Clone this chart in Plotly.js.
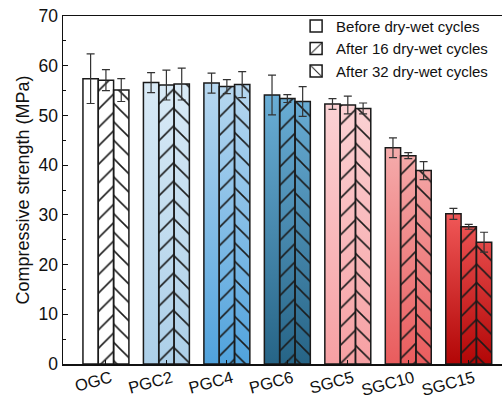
<!DOCTYPE html>
<html>
<head>
<meta charset="utf-8">
<script src="https://cdn.plot.ly/plotly-3.0.1.min.js"></script>
<style>html,body{margin:0;padding:0;background:#fff;}#chart{width:502px;height:403px;}</style>
</head>
<body>
<div id="chart"></div>
<script>
const categories = ["OGC", "PGC2", "PGC4", "PGC6", "SGC5", "SGC10", "SGC15"];
const seriesNames = ["Before dry-wet cycles", "After 16 dry-wet cycles", "After 32 dry-wet cycles"];
const before = [57.4, 56.6, 56.5, 54.1, 52.3, 43.5, 30.2];
const beforeErr = [5.0, 2.0, 2.0, 4.0, 1.1, 2.0, 1.1];
const after16 = [57.1, 56.1, 55.8, 53.4, 52.1, 41.9, 27.6];
const after16Err = [2.1, 3.0, 1.4, 0.8, 1.8, 0.6, 0.5];
const after32 = [55.1, 56.3, 56.2, 52.8, 51.4, 38.9, 24.5];
const after32Err = [2.3, 3.2, 2.6, 3.0, 1.1, 1.8, 2.0];
const groupTopColors = ["#ffffff", "#d9eaf6", "#b8d8f0", "#6aaed6", "#fbd2d4", "#f5acac", "#f05858"];
const groupBottomColors = ["#ffffff", "#accfe8", "#50a2dc", "#266486", "#f6a0a3", "#e95c5d", "#b20606"];

const values = [before, after16, after32];
const errors = [beforeErr, after16Err, after32Err];
const shapes = ["", "/", "\\"];
const bargap = 0.24;
const barW = (1 - bargap) / values.length;
const idx = categories.map((c, i) => i);

const traces = [];
// gradient fills under the bars (one trace per category group)
categories.forEach((c, ci) => {
  const xs = [], ys = [];
  values.forEach((v, s) => {
    const xc = ci + (s - (values.length - 1) / 2) * barW;
    const x0 = xc - barW / 2, x1 = xc + barW / 2;
    xs.push(x0, x1, x1, x0, x0, null);
    ys.push(0, 0, v[ci], v[ci], 0, null);
  });
  const top = Math.max(...values.map(v => v[ci]));
  traces.push({
    type: "scatter", mode: "lines", x: xs, y: ys, xaxis: "x", yaxis: "y",
    fill: "toself", line: {width: 0, color: "rgba(0,0,0,0)"},
    fillcolor: groupBottomColors[ci],
    fillgradient: {type: "vertical", start: 0, stop: top,
      colorscale: [[0, groupBottomColors[ci]], [1, groupTopColors[ci]]]},
    showlegend: false, hoverinfo: "skip"
  });
});

values.forEach((v, i) => {
  traces.push({
    type: "bar", name: seriesNames[i], x: idx, y: v, xaxis: "x2", yaxis: "y2",
    error_y: {type: "data", array: errors[i], visible: true, color: "#333333", thickness: 1.2, width: 4},
    marker: {
      color: "rgba(255,255,255,0)",
      line: {color: "#1a1a1a", width: 1.5},
      pattern: {shape: shapes[i], fillmode: "overlay", fgcolor: "#1a1a1a", fgopacity: 1, size: 13, solidity: 0.12}
    },
    showlegend: true
  });
});

const layout = {
  width: 502, height: 403,
  margin: {l: 63, r: 0, t: 16, b: 39},
  paper_bgcolor: "#ffffff", plot_bgcolor: "#ffffff",
  font: {family: "Liberation Sans, Arial, sans-serif", color: "#111111"},
  barmode: "group", bargap: bargap, bargroupgap: 0,
  showlegend: true,
  legend: {x: 0.531, y: 1.018, xanchor: "left", yanchor: "top", font: {size: 15, color: "#111"},
    bgcolor: "rgba(0,0,0,0)", tracegroupgap: 0},
  xaxis: {
    range: [-0.71, 6.55], tickvals: idx, ticktext: categories,
    showline: true, linecolor: "#111", linewidth: 1.5, mirror: true,
    ticks: "inside", ticklen: 4, tickcolor: "#111", tickangle: -15, tickfont: {size: 16.5},
    ticklabelshift: 5, ticklabelstandoff: -3,
    showgrid: false, zeroline: false
  },
  yaxis: {
    range: [0, 70], dtick: 10, showline: true, linecolor: "#111", linewidth: 1.5, mirror: false,
    ticks: "inside", ticklen: 5, tickcolor: "#111", tickfont: {size: 17.5}, showgrid: false, zeroline: false,
    minor: {dtick: 5, ticks: "inside", ticklen: 3, tickcolor: "#111"},
    title: {text: "Compressive strength (MPa)", font: {size: 18}, standoff: 4}
  },
  xaxis2: {overlaying: "x", range: [-0.71, 6.55], visible: false, showgrid: false, zeroline: false},
  yaxis2: {overlaying: "y", range: [0, 70], visible: false, showgrid: false, zeroline: false}
};

Plotly.newPlot("chart", traces, layout, {displayModeBar: false, staticPlot: true});
</script>
</body>
</html>
